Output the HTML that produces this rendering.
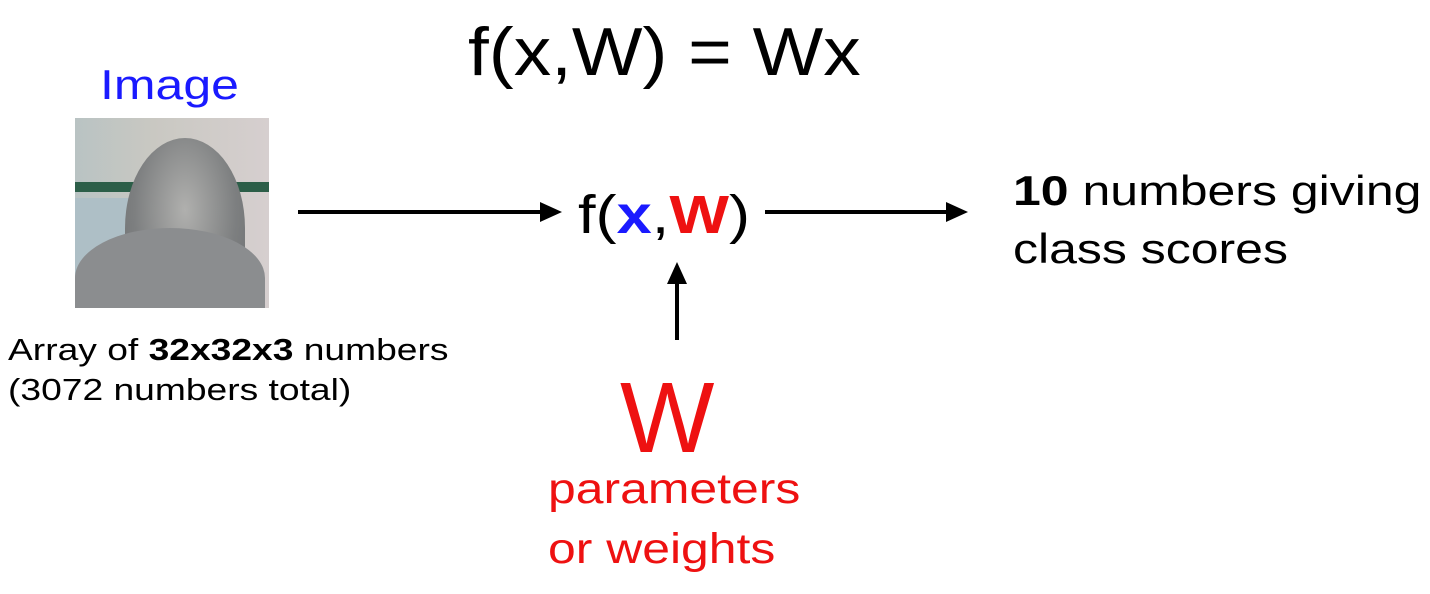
<!DOCTYPE html>
<html><head><style>
body{margin:0;width:1430px;height:594px;background:#fff;position:relative;overflow:hidden;font-family:"Liberation Sans",Arial,sans-serif}
.t{position:absolute;white-space:nowrap;line-height:1;transform-origin:0 0}
</style></head><body>
<div class="t" style="left:468px;top:18px;font-size:68px;transform:scaleX(1.1)">f(x,W) = Wx</div>
<div class="t" style="left:100px;top:64px;font-size:42px;color:#1a1aff;transform:scaleX(1.19)">Image</div>
<div style="position:absolute;left:75px;top:118px;width:194px;height:190px;overflow:hidden;background:linear-gradient(90deg,#b9c3c3 0%,#c9c8c2 40%,#d6cfcf 100%)">
 <div style="position:absolute;left:0;top:64px;width:194px;height:10px;background:#2c5e48"></div>
 <div style="position:absolute;left:0;top:80px;width:60px;height:110px;background:#aebfc6"></div>
 <div style="position:absolute;left:50px;top:20px;width:120px;height:180px;border-radius:50% 50% 10% 10%;background:radial-gradient(ellipse at 50% 40%,#b0b0ae,#7d7f80 60%,#6c6e70)"></div>
 <div style="position:absolute;left:0;top:110px;width:190px;height:100px;border-radius:50% 50% 0 0;background:#8b8d8f"></div>
</div>
<svg style="position:absolute;left:0;top:0" width="1430" height="594">
 <line x1="298" y1="212" x2="545" y2="212" stroke="#000" stroke-width="4"/>
 <polygon points="562,212 540,202 540,222" fill="#000"/>
 <line x1="765" y1="212" x2="950" y2="212" stroke="#000" stroke-width="4"/>
 <polygon points="968,212 946,202 946,222" fill="#000"/>
 <line x1="677" y1="340" x2="677" y2="280" stroke="#000" stroke-width="4"/>
 <polygon points="677,262 667,284 687,284" fill="#000"/>
</svg>
<div class="t" style="left:578px;top:188px;font-size:54px;transform:scaleX(1.17)">f(<b style="color:#1a1aff">x</b>,<b style="color:#ee1111">W</b>)</div>
<div class="t" style="left:1013px;top:170px;font-size:42px;transform:scaleX(1.19)"><b>10</b> numbers giving</div>
<div class="t" style="left:1013px;top:228px;font-size:42px;transform:scaleX(1.19)">class scores</div>
<div class="t" style="left:8px;top:334px;font-size:31px;transform:scaleX(1.2)">Array of <b>32x32x3</b> numbers</div>
<div class="t" style="left:8px;top:374px;font-size:31px;transform:scaleX(1.2)">(3072 numbers total)</div>
<div class="t" style="left:620px;top:368px;font-size:100px;color:#ee1111">W</div>
<div class="t" style="left:548px;top:468px;font-size:43px;color:#ee1111;transform:scaleX(1.16)">parameters</div>
<div class="t" style="left:548px;top:528px;font-size:43px;color:#ee1111;transform:scaleX(1.16)">or weights</div>
</body></html>
